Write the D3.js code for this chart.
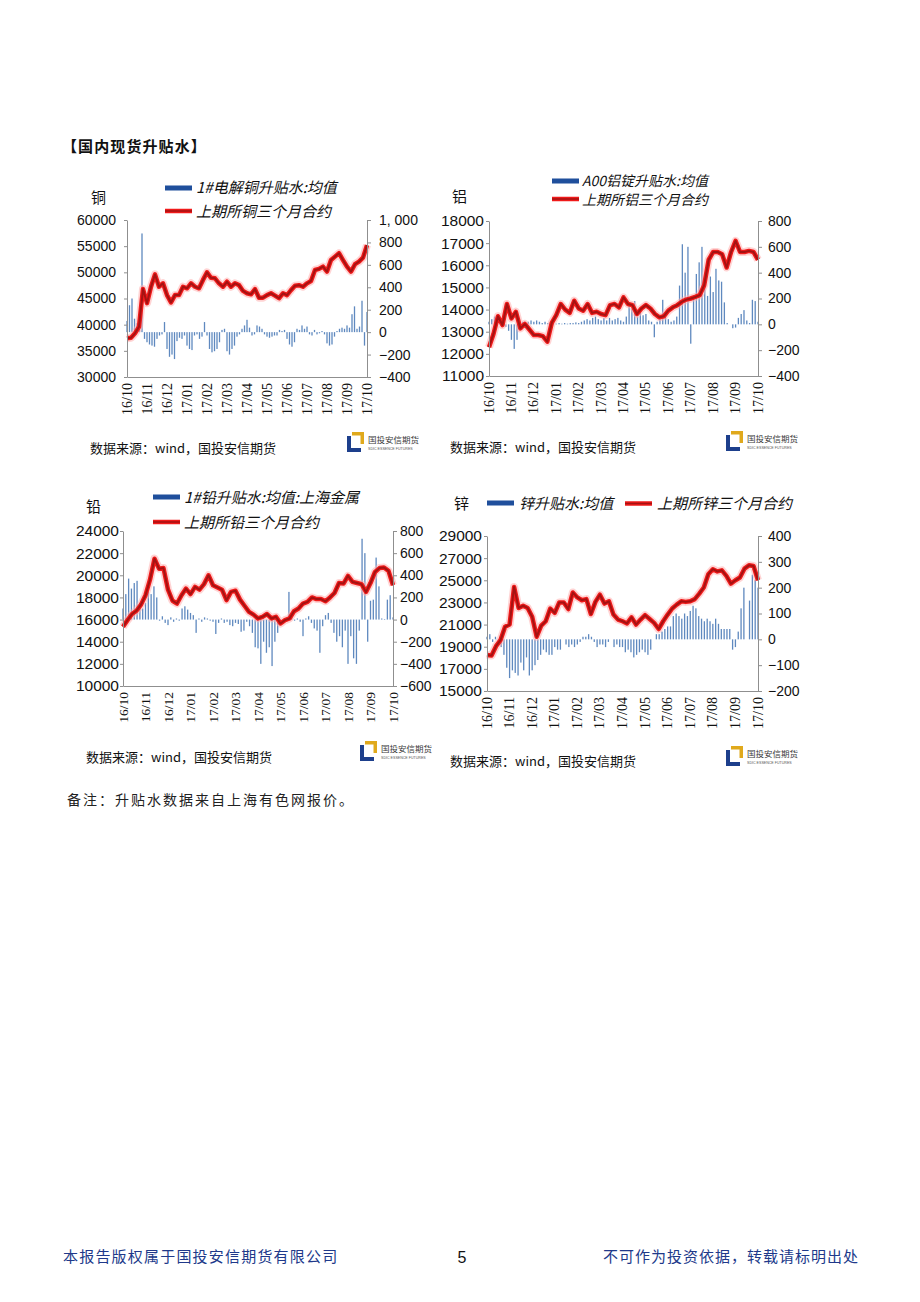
<!DOCTYPE html>
<html><head><meta charset="utf-8">
<script src="https://cdn.jsdelivr.net/npm/d3@7"></script>
<style>body{margin:0;background:#fff}</style>
</head><body>
<svg id="c" width="920" height="1302"></svg>
<script>
// ---------------- DATA ----------------
const monthLabels = ["16/10","16/11","16/12","17/01","17/02","17/03","17/04","17/05","17/06","17/07","17/08","17/09","17/10"];

// copper: SHFE 3-month price (left axis) and spot premium (right axis)
const cuPrice = [37400,37500,38350,39600,46800,44100,47250,49600,47250,47900,45650,44250,45650,45650,47250,46950,47900,47250,46950,48550,50000,48950,48850,47900,47250,48200,47250,47900,47550,46450,46000,45800,46800,45150,45150,45650,46000,45550,45050,46000,45650,46600,47450,47550,47250,47900,48350,50450,50650,51100,50150,52350,53000,53650,52350,51100,50150,51550,52050,52800,55200];
const cuBasis = [100,240,300,120,80,150,880,-60,-90,-110,-120,-130,-60,-30,-20,90,-150,-220,-200,-240,-80,-50,-60,-30,-120,-150,-160,-30,-20,-60,-40,90,-30,-150,-180,-170,-150,-90,20,30,-170,-200,-150,-120,-40,-20,30,60,110,40,-30,-20,60,50,30,-20,-40,-50,-40,-30,-30,20,10,20,-60,-110,-130,-90,30,20,60,30,50,-20,-30,20,-20,-10,10,-20,-100,-120,-110,-40,10,30,40,30,60,40,160,230,30,50,280,-120,180];

// aluminium
const alPrice = [12300,12900,13700,13300,14250,13600,13900,13150,13350,13100,12850,12850,12800,12550,13400,13750,14250,14000,13850,14400,14050,13950,14250,13850,13900,13800,13750,14200,14250,14100,14550,14250,14200,13800,14050,14200,14050,13800,13650,13700,13950,14100,14200,14350,14450,14500,14570,14650,15100,16250,16600,16600,16500,15900,16600,17100,16600,16600,16650,16600,16250];
const alBasis = [20,40,60,70,40,60,-20,-50,-120,-190,-120,-40,20,-30,20,30,20,30,20,10,20,10,10,10,5,10,5,10,5,10,10,15,10,20,30,40,30,50,60,40,30,50,30,50,30,40,50,30,20,60,150,120,180,60,90,70,80,30,20,-100,20,50,190,60,40,20,30,60,300,620,400,600,-150,200,390,480,600,330,220,370,250,430,340,330,170,10,0,-30,-25,50,80,110,30,10,190,180,20];

// lead
const pbPrice = [15350,15950,16500,16800,17350,18200,19600,21500,20600,20650,18700,17700,17450,18200,18800,18300,18950,18700,19200,20000,19100,18900,18700,17750,18500,18600,17800,17250,16700,16450,16100,16250,16500,16100,16250,15650,15950,16100,16750,17000,17450,17600,18000,17850,17850,17650,18000,18400,19300,19250,19950,19400,19300,19200,18500,19300,20300,20650,20700,20400,19100];
const pbBasis = [100,230,370,280,330,350,150,100,150,250,230,300,200,-10,30,-30,-50,20,-20,10,-10,100,120,90,60,40,-120,10,-20,20,10,-10,-20,-130,-30,10,-30,-20,-50,-60,-30,-40,-110,-100,-20,-60,-120,-250,-260,-400,-200,-300,-250,-420,-200,-120,-20,-10,10,250,20,-10,10,-20,-150,10,30,-30,-80,-100,-300,-60,40,60,-30,-120,-200,-150,-250,-100,-400,-150,-350,-400,-100,730,600,-200,170,180,560,300,10,5,180,220,20];

// zinc
const znPrice = [18250,18200,19050,19600,20800,21000,24400,22500,22700,22500,21700,19900,20900,21300,22450,22050,23000,23000,22400,23900,23450,23200,23300,21950,23050,23700,22900,23100,21900,21450,21300,21100,21650,21000,21450,21850,21500,21150,20600,21300,21900,22450,22800,23100,23050,23100,23300,23800,24350,25550,26000,25800,25900,25400,24700,25000,25250,26050,26350,26300,25000];
const znBasis = [10,20,-10,10,-10,-30,-60,-110,-150,-120,-130,-140,-90,-120,-70,-140,-120,-100,-80,-60,-40,-50,-60,-60,-30,-40,-40,0,-20,-30,-20,-30,-20,-10,10,10,20,10,-10,-30,-20,-20,-30,-10,0,-30,-20,-30,-30,-50,-40,-50,-70,-60,-50,-40,-50,-60,-40,0,20,20,30,40,50,50,90,100,90,80,100,90,110,130,120,90,80,70,80,70,60,80,60,40,40,40,40,-40,-30,30,120,200,0,150,250,230,200];

// texts
const pageTitle = "【国内现货升贴水】";
const sourceText = "数据来源：wind，国投安信期货";
const noteText = "备注：升贴水数据来自上海有色网报价。";
const footerLeft = "本报告版权属于国投安信期货有限公司";
const footerRight = "不可作为投资依据，转载请标明出处";
const pageNo = "5";

// ---------------- DRAW ----------------
const svg = d3.select("#c");
svg.append("rect").attr("width",920).attr("height",1302).attr("fill","#fff");
const CJK = "'Noto Sans CJK SC','Noto Sans',sans-serif";
const NUM = "'Liberation Sans',Arial,sans-serif";
const SERIF = "'Liberation Serif','Times New Roman',serif";
const AX = "#8f8f8f";
const minus = s => s.replace("-", "\u2212");

function logo(x, y) {
  const g = svg.append("g").attr("transform", `translate(${x},${y})`);
  g.append("rect").attr("x",5).attr("y",1).attr("width",12).attr("height",3.5).attr("fill","#e0a91c");
  g.append("rect").attr("x",13.5).attr("y",1).attr("width",3.5).attr("height",12).attr("fill","#e0a91c");
  g.append("rect").attr("x",0).attr("y",5).attr("width",4).attr("height",16).attr("fill","#1d3f8c");
  g.append("rect").attr("x",0).attr("y",17).attr("width",14).attr("height",4).attr("fill","#1d3f8c");
  g.append("text").attr("x",21).attr("y",12).attr("font-family",CJK).attr("font-size",8.5).attr("fill","#3a3a3a").text("国投安信期货");
  g.append("text").attr("x",21).attr("y",19).attr("font-family",NUM).attr("font-size",3.6).attr("fill","#555").text("SDIC ESSENCE FUTURES");
}

function drawChart(c) {
  const g = svg.append("g");
  const xm = d3.scaleLinear().domain([0, monthLabels.length - 1]).range([c.x0, c.x1]);
  const xp = d3.scaleLinear().domain([0, c.price.length - 1]).range([c.x0, c.x1]);
  const xb = d3.scaleLinear().domain([0, c.basis.length - 1]).range([c.x0, c.x1]);
  const yl = d3.scaleLinear().domain(c.yL).range([c.y1, c.y0]);
  const yr = d3.scaleLinear().domain(c.yR).range([c.y1, c.y0]);

  // bars
  g.append("g").selectAll("rect").data(c.basis).join("rect")
    .attr("x", (d, i) => xb(i) - 0.65).attr("width", 1.3)
    .attr("y", d => Math.min(yr(d), yr(0)))
    .attr("height", d => Math.abs(yr(d) - yr(0)))
    .attr("fill", "#5f89bf");

  // price line
  const line = d3.line().x((d, i) => xp(i)).y(d => yl(d));
  [["#ffb0b0", 8, 0.55], ["#f01a1a", 4.5, 1], ["#a51212", 2, 1]].forEach(([col, w, o]) => {
    g.append("path").datum(c.price).attr("d", line).attr("fill", "none")
      .attr("stroke", col).attr("stroke-width", w).attr("stroke-opacity", o)
      .attr("stroke-linejoin", "round");
  });

  // axes
  const la = d3.axisLeft(yl).tickValues(d3.range(c.yL[0], c.yL[1] + 1, c.stepL))
    .tickSize(3).tickSizeOuter(0).tickPadding(c.padL).tickFormat(d3.format("d"));
  const ra = d3.axisRight(yr).tickValues(d3.range(c.yR[0], c.yR[1] + 1, c.stepR))
    .tickSize(4).tickSizeOuter(0).tickPadding(c.padR).tickFormat(c.fmtR || (d => minus(String(d))));
  const gl = g.append("g").attr("transform", `translate(${c.x0},0)`).call(la);
  const gr = g.append("g").attr("transform", `translate(${c.x1},0)`).call(ra);
  [gl, gr].forEach(a => {
    a.select(".domain").attr("stroke", AX);
    a.selectAll(".tick line").attr("stroke", AX);
  });
  gl.selectAll("text").attr("font-family", NUM).attr("font-size", c.fsL).attr("fill", "#111");
  gr.selectAll("text").attr("font-family", NUM).attr("font-size", c.fsR).attr("fill", "#111");

  const xa = d3.axisBottom(xm).tickValues(d3.range(monthLabels.length)).tickSize(0).tickSizeOuter(0).tickFormat("");
  const gx = g.append("g").attr("transform", `translate(0,${c.y1})`).call(xa);
  gx.select(".domain").attr("stroke", AX);
  g.append("g").selectAll("text").data(monthLabels).join("text")
    .attr("transform", (d, i) => `translate(${xm(i) + 4.5},${c.y1 + 6}) rotate(-90)`)
    .attr("text-anchor", "end").attr("font-family", SERIF).attr("font-size", c.fsX).attr("fill", "#111")
    .text(d => d);

  // title & legend
  g.append("text").attr("x", c.title[0]).attr("y", c.title[1]).attr("font-family", CJK)
    .attr("font-size", 15).attr("fill", "#111").text(c.name);
  c.legend.forEach(l => {
    if (l.kind === "bar") {
      g.append("rect").attr("x", l.sx).attr("y", l.sy - 2.5).attr("width", 27).attr("height", 5).attr("fill", "#1f4f9c");
    } else {
      g.append("line").attr("x1", l.sx).attr("x2", l.sx + 27).attr("y1", l.sy).attr("y2", l.sy).attr("stroke", "#f01a1a").attr("stroke-width", 4.5);
      g.append("line").attr("x1", l.sx).attr("x2", l.sx + 27).attr("y1", l.sy).attr("y2", l.sy).attr("stroke", "#a51212").attr("stroke-width", 1.5);
    }
    g.append("text").attr("x", l.tx).attr("y", l.ty).attr("font-family", CJK).attr("font-style", "italic")
      .attr("font-size", c.fsLeg || 15).attr("fill", "#111").text(l.text);
  });
  g.append("text").attr("x", c.src[0]).attr("y", c.src[1]).attr("font-family", CJK)
    .attr("font-size", 13).attr("fill", "#111").text(sourceText);
  logo(c.logo[0], c.logo[1]);
}

drawChart({
  name: "铜", price: cuPrice, basis: cuBasis,
  x0: 127, x1: 367, y0: 220, y1: 377,
  yL: [30000, 60000], stepL: 5000, yR: [-400, 1000], stepR: 200,
  fmtR: d => d === 1000 ? "1, 000" : minus(String(d)),
  padL: 8, padR: 8, fsL: 14, fsR: 14, fsX: 14,
  title: [91, 203],
  legend: [
    {kind: "bar", sx: 165, sy: 188, tx: 196, ty: 193, text: "1#电解铜升贴水:均值"},
    {kind: "line", sx: 165, sy: 211, tx: 196, ty: 217, text: "上期所铜三个月合约"}
  ],
  src: [90, 453], logo: [347, 431]
});

drawChart({
  name: "铝", price: alPrice, basis: alBasis,
  x0: 489, x1: 758, y0: 221, y1: 376,
  yL: [11000, 18000], stepL: 1000, yR: [-400, 800], stepR: 200,
  padL: 2, padR: 6, fsL: 15.5, fsR: 14, fsX: 14, fsLeg: 14,
  title: [452, 202],
  legend: [
    {kind: "bar", sx: 552, sy: 181, tx: 582, ty: 186, text: "A00铝锭升贴水:均值"},
    {kind: "line", sx: 552, sy: 199, tx: 582, ty: 205, text: "上期所铝三个月合约"}
  ],
  src: [450, 452], logo: [726, 430]
});

drawChart({
  name: "铅", price: pbPrice, basis: pbBasis,
  x0: 123, x1: 393, y0: 531, y1: 686,
  yL: [10000, 24000], stepL: 2000, yR: [-600, 800], stepR: 200,
  padL: 1, padR: 3, fsL: 15.5, fsR: 14, fsX: 13.5,
  title: [86, 512],
  legend: [
    {kind: "bar", sx: 153, sy: 497, tx: 184, ty: 503, text: "1#铅升贴水:均值:上海金属"},
    {kind: "line", sx: 153, sy: 522, tx: 184, ty: 528, text: "上期所铅三个月合约"}
  ],
  src: [86, 762], logo: [360, 740]
});

drawChart({
  name: "锌", price: znPrice, basis: znBasis,
  x0: 487, x1: 758, y0: 536, y1: 691,
  yL: [15000, 29000], stepL: 2000, yR: [-200, 400], stepR: 100,
  padL: 2, padR: 6, fsL: 15.5, fsR: 14, fsX: 14,
  title: [454, 509],
  legend: [
    {kind: "bar", sx: 487, sy: 503, tx: 519, ty: 509, text: "锌升贴水:均值"},
    {kind: "line", sx: 625, sy: 503.5, tx: 657, ty: 509, text: "上期所锌三个月合约"}
  ],
  src: [450, 766], logo: [726, 745]
});

// page texts
svg.append("text").attr("x", 62).attr("y", 152).attr("font-family", CJK).attr("font-weight", 700)
  .attr("font-size", 15).attr("letter-spacing", 1.1).attr("fill", "#111").text(pageTitle);
svg.append("text").attr("x", 67).attr("y", 805).attr("font-family", CJK).attr("font-size", 14)
  .attr("letter-spacing", 2).attr("fill", "#222").text(noteText);
svg.append("text").attr("x", 63).attr("y", 1262).attr("font-family", CJK).attr("font-size", 15)
  .attr("letter-spacing", 1.2).attr("fill", "#20398a").text(footerLeft);
svg.append("text").attr("x", 462).attr("y", 1263).attr("text-anchor", "middle").attr("font-family", NUM)
  .attr("font-size", 16).attr("fill", "#111").text(pageNo);
svg.append("text").attr("x", 859).attr("y", 1262).attr("text-anchor", "end").attr("font-family", CJK)
  .attr("font-size", 15).attr("letter-spacing", 1).attr("fill", "#20398a").text(footerRight);
</script>
</body></html>
